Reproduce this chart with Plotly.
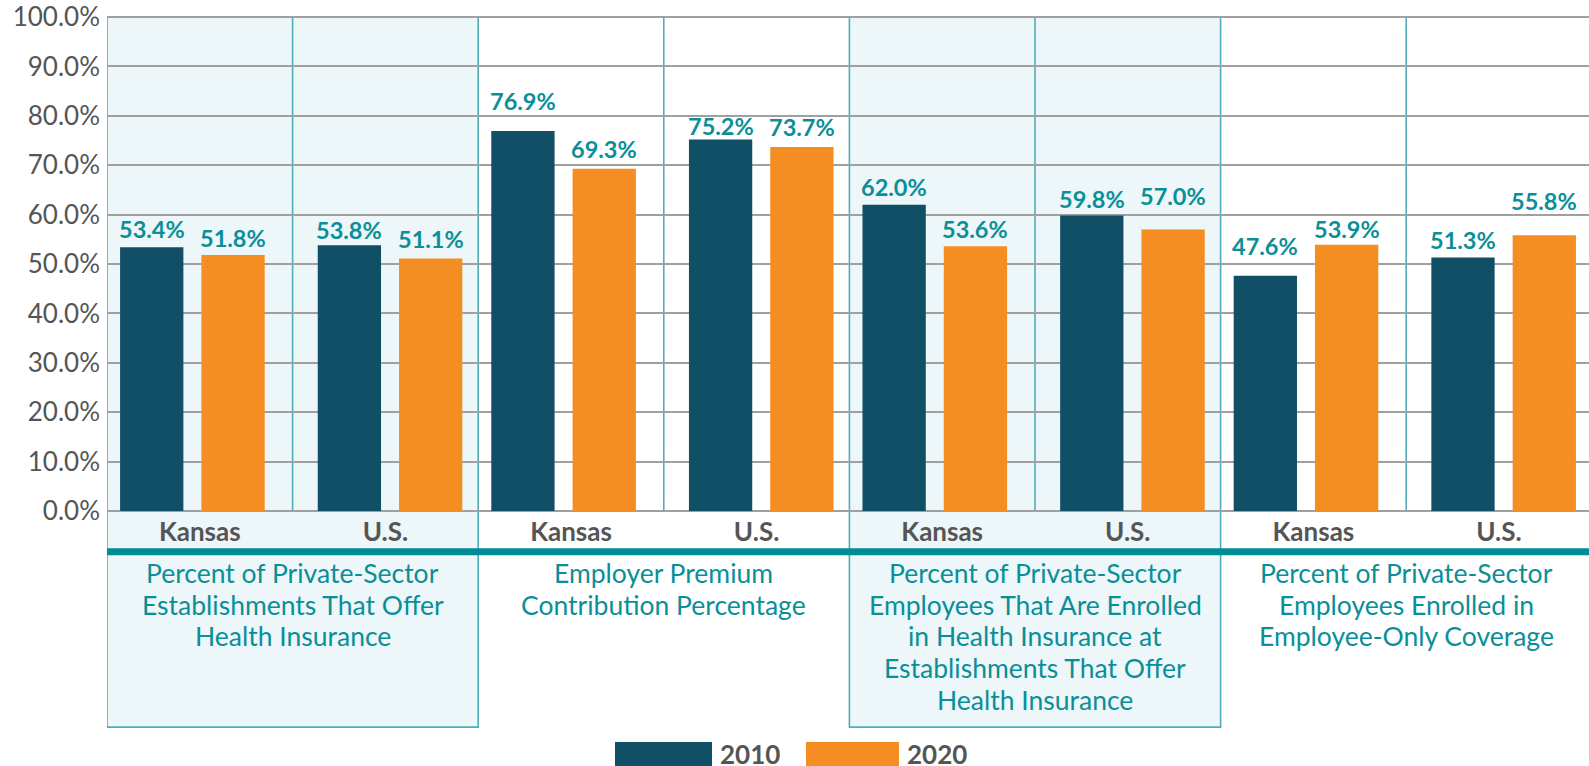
import plotly.graph_objects as go

# ---- data ----
categories = ["Kansas", "U.S.", "Kansas", "U.S.", "Kansas", "U.S.", "Kansas", "U.S."]
values_2010 = [53.4, 53.8, 76.9, 75.2, 62.0, 59.8, 47.6, 51.3]
values_2020 = [51.8, 51.1, 69.3, 73.7, 53.6, 57.0, 53.9, 55.8]
group_labels = [
    "Percent of Private-Sector<br>Establishments That Offer<br>Health Insurance",
    "Employer Premium<br>Contribution Percentage",
    "Percent of Private-Sector<br>Employees That Are Enrolled<br>in Health Insurance at<br>Establishments That Offer<br>Health Insurance",
    "Percent of Private-Sector<br>Employees Enrolled in<br>Employee-Only Coverage",
]
series_names = ["2010", "2020"]
y_ticks = [0, 10, 20, 30, 40, 50, 60, 70, 80, 90, 100]

# ---- style ----
DARK = "#114F66"
ORANGE = "#F48D22"
TEAL = "#0A8F98"
TEAL_LINE = "#4FAEB7"
BOX_BG = "#EDF6F9"
GRAY_TXT = "#555555"
GRID = "#A0A0A0"
FONT = "Lato"
LABEL_SIZE = 23.5
# gap (px) between label baseline and bar top, as placed in the original artwork
label_gap_2010 = [8, 5.7, 20, 3.7, 7.3, 7, 19.7, 7.3]
label_gap_2020 = [7, 10, 10, 9.7, 7.3, 23, 6, 24.7]

W, H = 1589, 766
L, R, T, B = 107, 0, 15, 255
plot_h = H - T - B  # 496
cell_px = 185.6
x_max = -0.5 + (W - L - R) / cell_px


def py(pixel_y):
    """convert a pixel row to paper y"""
    return (H - B - pixel_y) / plot_h


def px(pixel_x):
    return (pixel_x - L) / (W - L - R)


xs = list(range(len(categories)))

# bar geometry (in category units)
bar_w = 63.3 / cell_px
inner_gap = 18 / cell_px
pair_shift = [-0.040 if c == "Kansas" else 0.025 for c in categories]
off_2010 = [s - bar_w - inner_gap / 2 for s in pair_shift]
off_2020 = [s + inner_gap / 2 for s in pair_shift]

fig = go.Figure()
annotations = []
for name, vals, col, off, gaps in [(series_names[0], values_2010, DARK, off_2010, label_gap_2010),
                                   (series_names[1], values_2020, ORANGE, off_2020, label_gap_2020)]:
    fig.add_trace(go.Bar(
        x=xs, y=vals, name=name, marker_color=col, marker_line_width=0,
        width=bar_w, offset=off, showlegend=False,
    ))
    for xi, v, o, gp in zip(xs, vals, off, gaps):
        annotations.append(dict(
            x=xi + o + bar_w / 2, xref="x", y=v, yref="y", text=f"{v:.1f}%",
            showarrow=False, xanchor="center", yanchor="bottom", yshift=gp - 6,
            font=dict(family=FONT, size=LABEL_SIZE, color=TEAL, weight="bold")))

shapes = []
box_bottom = py(728)
# shaded group boxes (groups 1 and 3)
for g in (0, 2):
    shapes.append(dict(type="rect", xref="x", yref="paper",
                       x0=2 * g - 0.5, x1=2 * g + 1.5, y0=box_bottom, y1=1,
                       fillcolor=BOX_BG, line=dict(color=TEAL_LINE, width=1.6), layer="below"))
# separators within groups
for g in range(4):
    shapes.append(dict(type="line", xref="x", yref="paper",
                       x0=2 * g + 0.5, x1=2 * g + 0.5, y0=0, y1=1,
                       line=dict(color=TEAL_LINE, width=1.6), layer="below"))
# top border (gray, like grid)
shapes.append(dict(type="line", xref="paper", yref="paper", x0=0, x1=1, y0=1, y1=1,
                   line=dict(color=GRID, width=2), layer="below"))
# thick teal rule
shapes.append(dict(type="line", xref="paper", yref="paper", x0=0, x1=1,
                   y0=py(552), y1=py(552), line=dict(color="#008B95", width=7), layer="above"))
# legend swatches
shapes.append(dict(type="rect", xref="paper", yref="paper", x0=px(615), x1=px(712),
                   y0=py(772), y1=py(743), fillcolor=DARK, line_width=0))
shapes.append(dict(type="rect", xref="paper", yref="paper", x0=px(806), x1=px(899),
                   y0=py(772), y1=py(743), fillcolor=ORANGE, line_width=0))

line_step = 32.0
for g, txt in enumerate(group_labels):
    for k, line in enumerate(txt.split("<br>")):
        annotations.append(dict(x=2 * g + 0.5, xref="x", y=py(573 + k * line_step), yref="paper",
                                text=line, showarrow=False, xanchor="center", yanchor="middle",
                                align="center", font=dict(family=FONT, size=26.5, color=TEAL)))
annotations.append(dict(x=px(718), xref="paper", y=py(755), yref="paper", text=series_names[0],
                        showarrow=False, xanchor="left", yanchor="middle",
                        font=dict(family=FONT, size=26, color=GRAY_TXT, weight="bold")))
annotations.append(dict(x=px(905), xref="paper", y=py(755), yref="paper", text=series_names[1],
                        showarrow=False, xanchor="left", yanchor="middle",
                        font=dict(family=FONT, size=26, color=GRAY_TXT, weight="bold")))

fig.update_layout(
    width=W, height=H,
    margin=dict(l=L, r=R, t=T, b=B, pad=0),
    paper_bgcolor="white", plot_bgcolor="rgba(0,0,0,0)",
    barmode="overlay",
    showlegend=False,
    shapes=shapes, annotations=annotations,
    xaxis=dict(tickmode="array", tickvals=xs, ticktext=categories, range=[-0.5, x_max],
               showgrid=False, zeroline=False, showline=False, ticks="",
               ticklabelstandoff=3,
               tickfont=dict(family=FONT, size=26, color=GRAY_TXT, weight="bold")),
    yaxis=dict(range=[0, 100], tickmode="array", tickvals=y_ticks,
               ticktext=[f"{v:.1f}%" for v in y_ticks],
               showgrid=True, gridcolor=GRID, gridwidth=1.5,
               zeroline=True, zerolinecolor=GRID, zerolinewidth=1.5,
               showline=False, ticks="", ticklabelstandoff=6,
               ticklabeloverflow="allow",
               tickfont=dict(family=FONT, size=26, color=GRAY_TXT)),
)

fig.write_html("out.html", config={"displayModeBar": False},
               post_script="document.body.style.margin='0';")
